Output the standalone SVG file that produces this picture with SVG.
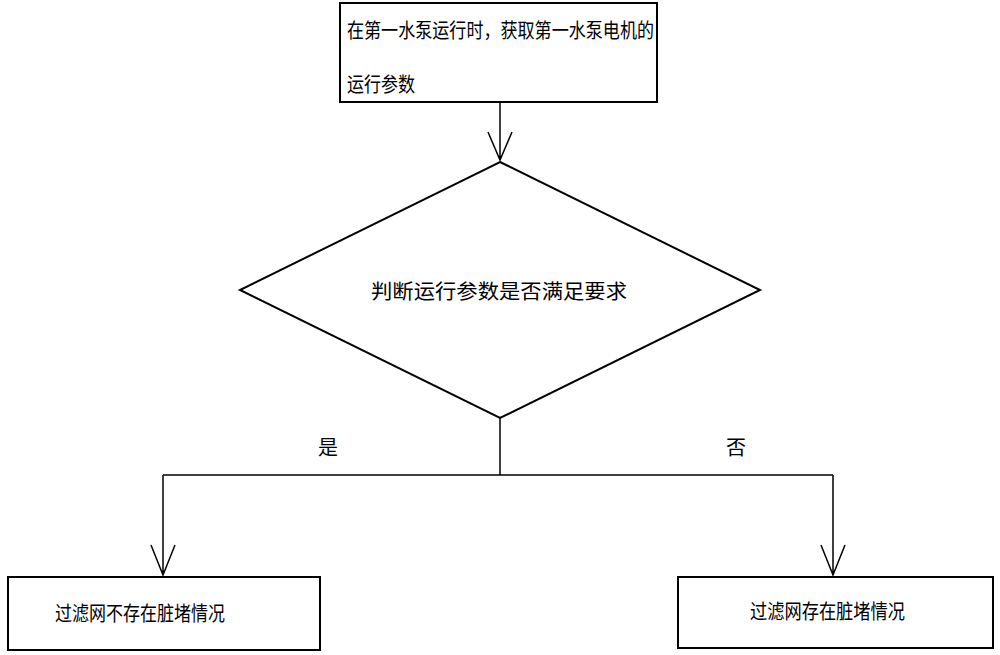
<svg xmlns="http://www.w3.org/2000/svg" width="1000" height="655" viewBox="0 0 1000 655">
<style>
.s{fill:#fff;stroke:#000;stroke-width:2}
.c{fill:none;stroke:#000;stroke-width:1.5}
text{font-family:"Liberation Serif","Noto Sans CJK SC",serif;font-size:20px;fill:#000}
</style>
<rect width="1000" height="655" fill="#fff"/>
<g id="start"><rect class="s" x="340" y="3" width="317" height="99"/>
<text x="347" y="38" textLength="307" lengthAdjust="spacingAndGlyphs">在第一水泵运行时，获取第一水泵电机的</text>
<text x="347" y="92" textLength="68" lengthAdjust="spacingAndGlyphs">运行参数</text></g>
<g id="decision"><polygon class="s" points="500,162 760,290 500,418 240,290"/>
<text x="371" y="299" font-size="24" textLength="256" lengthAdjust="spacingAndGlyphs">判断运行参数是否满足要求</text></g>
<g id="yes"><rect class="s" x="8" y="577" width="312" height="73"/>
<text x="55" y="621" textLength="170" lengthAdjust="spacingAndGlyphs">过滤网不存在脏堵情况</text></g>
<g id="no"><rect class="s" x="678" y="577" width="315" height="71"/>
<text x="750" y="619" textLength="155" lengthAdjust="spacingAndGlyphs">过滤网存在脏堵情况</text></g>
<g id="connectors">
<path class="c" d="M500 102V160M488 132L500 160L512 132"/>
<path class="c" d="M500 418V475M163 475H833M163 475V575M833 475V575M151 545L163 575L175 545M821 545L833 575L845 545"/>
<text x="318" y="455">是</text>
<text x="726" y="455">否</text>
</g>
</svg>
